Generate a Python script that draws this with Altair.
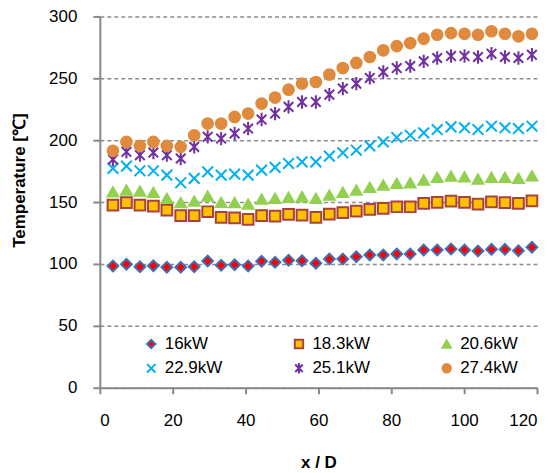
import altair as alt
import pandas as pd

# ---- data ----
x_d = [3.6, 7.3, 11.0, 14.7, 18.4, 22.2, 25.9, 29.6, 33.3, 37.0, 40.7, 44.4,
       48.1, 51.8, 55.5, 59.3, 63.0, 66.7, 70.4, 74.1, 77.8, 81.5, 85.2, 88.9,
       92.6, 96.4, 100.1, 103.8, 107.5, 111.2, 114.9, 118.6]

series_names = ["16kW", "18.3kW", "20.6kW", "22.9kW", "25.1kW", "27.4kW"]

t_16 = [98.4, 99.8, 97.8, 98.6, 97.3, 97.3, 97.8, 102.4, 98.9, 99.4, 98.4, 102.2,
        101.3, 103.0, 102.6, 100.6, 104.0, 104.0, 105.9, 107.3, 107.3, 108.1, 108.1, 111.3,
        111.3, 112.1, 111.3, 110.5, 111.8, 111.8, 110.7, 113.5]
t_183 = [147.6, 149.5, 147.6, 146.8, 143.5, 139.0, 139.0, 142.2, 137.6, 137.3, 136.0, 139.0,
         138.7, 140.0, 139.5, 137.6, 140.3, 141.4, 142.7, 144.1, 144.9, 146.2, 146.2, 148.9,
         149.7, 150.8, 149.7, 148.4, 150.2, 149.5, 148.9, 151.0]
t_206 = [158.3, 159.7, 158.9, 157.8, 153.0, 149.5, 150.8, 154.8, 149.7, 149.5, 148.4, 152.4,
         153.0, 153.8, 154.3, 153.0, 155.6, 157.8, 159.7, 161.8, 163.7, 165.1, 165.6, 167.7,
         169.9, 171.0, 170.4, 168.5, 169.9, 169.9, 169.1, 171.2]
t_229 = [177.2, 179.0, 175.3, 175.3, 171.8, 165.6, 169.1, 174.4, 171.8, 172.6, 171.8, 175.8,
         178.0, 181.2, 182.5, 182.5, 187.1, 189.8, 191.9, 195.4, 198.6, 202.2, 204.0, 205.9,
         208.6, 210.8, 210.0, 208.6, 211.3, 210.0, 209.4, 211.3]
t_251 = [184.4, 190.6, 187.9, 190.0, 187.9, 185.2, 194.6, 202.7, 201.3, 205.4, 209.4, 216.7,
         221.5, 226.9, 230.9, 230.9, 236.8, 241.7, 245.7, 250.3, 255.1, 258.3, 259.9, 263.7,
         266.4, 268.0, 268.0, 267.2, 269.9, 267.2, 266.4, 269.0]
t_274 = [191.4, 198.6, 195.4, 198.6, 195.4, 194.6, 204.0, 213.4, 213.4, 218.8, 221.5, 229.6,
         234.4, 240.8, 245.7, 247.0, 253.0, 258.3, 262.4, 267.2, 272.6, 276.0, 278.5, 282.0,
         285.2, 286.5, 286.0, 285.2, 288.0, 286.0, 283.9, 286.0]

y_ticks = [0, 50, 100, 150, 200, 250, 300]
x_ticks = [0, 20, 40, 60, 80, 100, 120]

rows = []
for name, vals in zip(series_names, [t_16, t_183, t_206, t_229, t_251, t_274]):
    for xv, tv in zip(x_d, vals):
        rows.append({"x": xv, "T": tv, "series": name})
df = pd.DataFrame(rows)

fills = ["#FF0000", "#FFC000", "#92D050", "transparent", "transparent", "#E08A3E"]
strokes = ["#3F6FB5", "#A8433C", "#92D050", "#00B0F0", "#7030A0", "#E08A3E"]
X_PATH = "M-1,-1L1,1M-1,1L1,-1"
AST_PATH = "M-0.9,-0.9L0.9,0.9M-0.9,0.9L0.9,-0.9M0,-1.25L0,1.25"
shapes = ["diamond", "square", "triangle-up", X_PATH, AST_PATH, "circle"]

FONT = "Liberation Sans"

legend = alt.Legend(
    title=None, orient="none", legendX=43, legendY=319, columns=3,
    direction="horizontal",
    labelFont=FONT, labelFontSize=17, labelColor="#000000",
    symbolSize=70, symbolStrokeWidth=2, labelOffset=5,
    columnPadding=68, rowPadding=6, gridAlign="all", padding=0,
)

chart = alt.Chart(df).mark_point(size=115, strokeWidth=2, opacity=1).encode(
    x=alt.X("x:Q", scale=alt.Scale(domain=[0, 120], nice=False),
            axis=alt.Axis(title="x / D", values=x_ticks, grid=False,
                          tickSize=6, labelPadding=19, titleY=80,
                          titleBaseline="alphabetic")),
    y=alt.Y("T:Q", scale=alt.Scale(domain=[0, 300], nice=False),
            axis=alt.Axis(title="Temperature [℃]", values=y_ticks, grid=True,
                          tickSize=7, labelPadding=16,
                          titleX=-75, titleY=164, titleBaseline="alphabetic")),
    fill=alt.Fill("series:N", scale=alt.Scale(domain=series_names, range=fills), legend=legend),
    stroke=alt.Stroke("series:N", scale=alt.Scale(domain=series_names, range=strokes), legend=legend),
    shape=alt.Shape("series:N", scale=alt.Scale(domain=series_names, range=shapes), legend=legend),
).properties(
    width=438, height=372,
    autosize=alt.AutoSizeParams(type="none"),
    padding={"left": 92, "top": 8, "right": 10, "bottom": 85},
).configure_view(
    stroke=None
).configure_axis(
    labelFont=FONT, labelFontSize=17, labelColor="#000000",
    titleFont=FONT, titleFontSize=17, titleFontWeight="bold", titleColor="#000000",
    domainColor="#888888", domainWidth=2, tickColor="#888888", tickWidth=2,
    gridColor="#8C8C8C", gridDash=[4, 3], gridWidth=1.5,
)

chart.save("out.html", embed_options={"renderer": "svg", "actions": False})
